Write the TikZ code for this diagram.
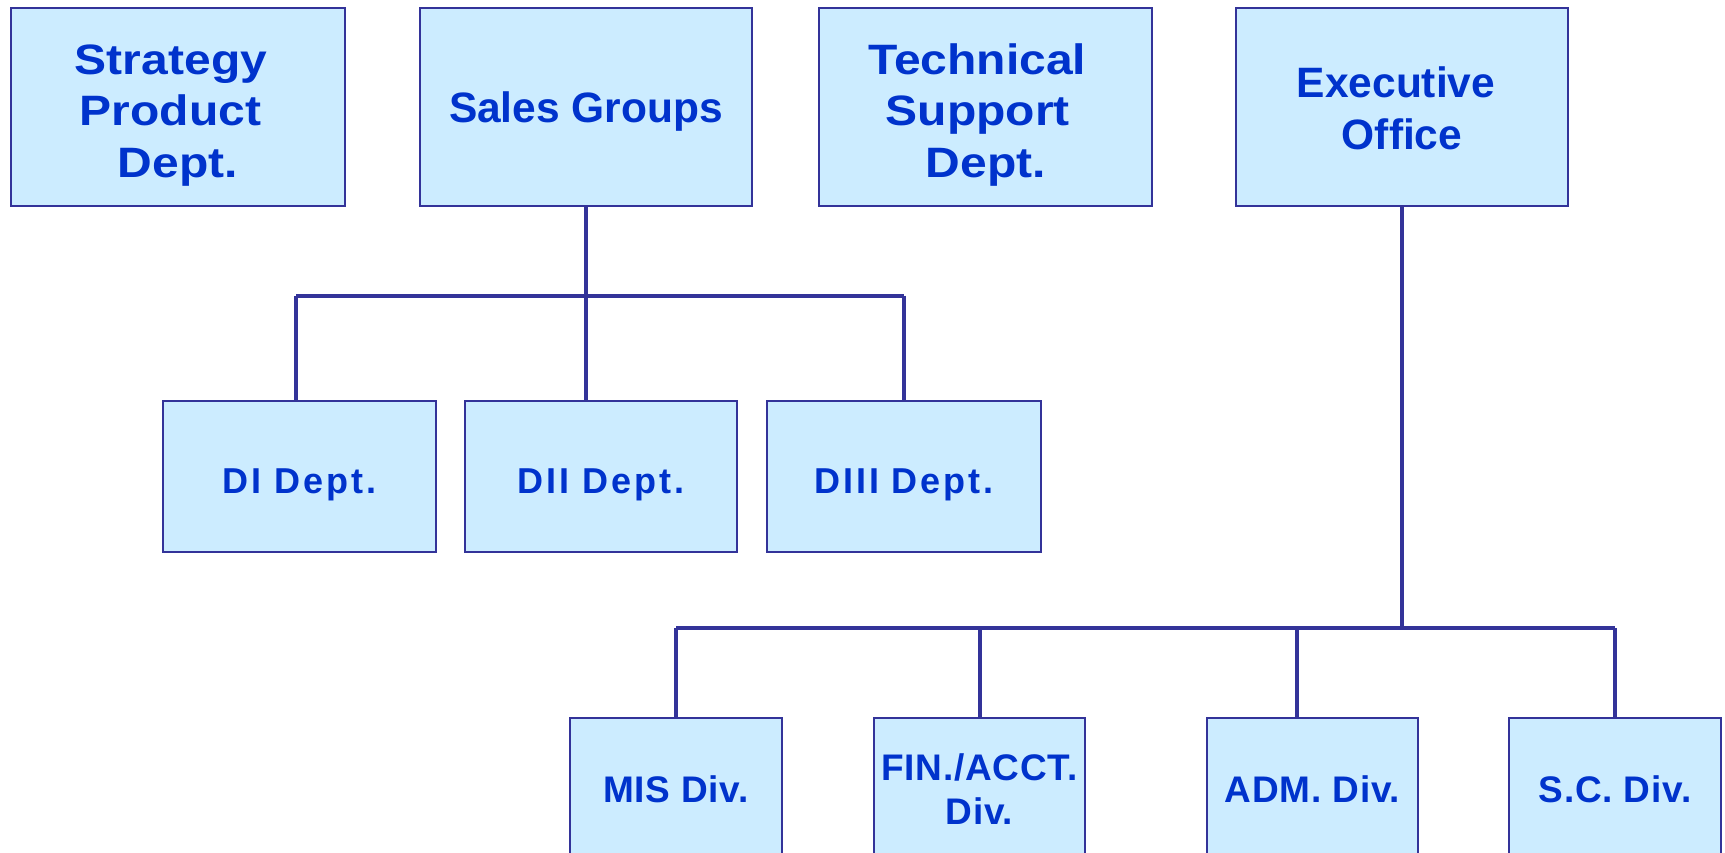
\documentclass[tikz,border=0pt]{standalone}
\usepackage{fontspec}
\setmainfont{Liberation Sans}
\definecolor{boxfill}{HTML}{CCECFF}
\definecolor{boxline}{HTML}{333399}
\definecolor{boxtext}{HTML}{0033CC}
\newcommand{\topstrut}{\rule{0pt}{38pt}}
\newcommand{\midstrut}{\rule{0pt}{33pt}}
\tikzset{
  orgbox/.style={draw=boxline, line width=2pt, fill=boxfill, text=boxtext,
    inner sep=0pt, align=center, text depth=0pt},
  topfont/.style={font=\fontsize{42.5}{51.5}\selectfont\bfseries},
  widefont/.style={font=\fontsize{42.5}{51.5}\selectfont\bfseries\addfontfeature{FakeStretch=1.13}},
  midfont/.style={font=\fontsize{36}{43}\selectfont\bfseries\addfontfeature{LetterSpace=8}},
  botfont/.style={font=\fontsize{37}{44}\selectfont\bfseries\addfontfeature{LetterSpace=2}},
  link/.style={draw=boxline, line width=4pt}
}
\begin{document}
\begin{tikzpicture}[x=1pt,y=-1pt]
\clip (0,0) rectangle (1725,852);
% top row
\node[orgbox,widefont,minimum width=334pt,minimum height=197.5pt] (strat) at (178,106.8)
  {\topstrut Strategy\kern14pt\\Product\kern15pt\\Dept.};
\node[orgbox,topfont,minimum width=332pt,minimum height=197.5pt] (sales) at (586,106.8)
  {Sales Groups};
\node[orgbox,widefont,minimum width=333pt,minimum height=197.5pt] (tech) at (985.7,106.8)
  {\topstrut Technical\kern17pt\\Support\kern16pt\\Dept.};
\node[orgbox,topfont,minimum width=332pt,minimum height=197.5pt] (exec) at (1402,106.8)
  {\rule{0pt}{33pt}Executive\kern12pt\\Office};
% middle row
\node[orgbox,midfont,minimum width=273pt,minimum height=151pt] (d1) at (299.5,476.5) {\midstrut DI Dept.};
\node[orgbox,midfont,minimum width=272.5pt,minimum height=151pt] (d2) at (601,476.5) {\midstrut DII Dept.};
\node[orgbox,midfont,minimum width=274pt,minimum height=151pt] (d3) at (904,476.5) {\midstrut DIII Dept.};
% bottom row
\node[orgbox,botfont,minimum width=212pt,minimum height=142pt] (mis) at (676,789) {MIS Div.};
\node[orgbox,botfont,minimum width=211pt,minimum height=142pt] (fin) at (979.5,789) {FIN./ACCT.\\Div.};
\node[orgbox,botfont,minimum width=211pt,minimum height=142pt] (adm) at (1312.5,789) {ADM. Div.};
\node[orgbox,botfont,minimum width=211.5pt,minimum height=142pt] (sc) at (1615,789) {S.C. Div.};
% sales connectors
\coordinate (sb) at (sales.south |- 0,295.7);
\coordinate (s1) at (296,295.7);
\coordinate (s3) at (d3.north |- sb);
\draw[link] (sales.south) -- (sales.south |- d2.north);
\draw[link] (s1) -- (s3);
\draw[link] (s1) -- (s1 |- d1.north);
\draw[link] (s3) -- (d3.north);
% executive connectors
\coordinate (eb) at (exec.south |- 0,628.3);
\coordinate (e1) at (mis.north |- eb);
\coordinate (e2) at (fin.north |- eb);
\coordinate (e3) at (1297,628.3);
\coordinate (e4) at (sc.north |- eb);
\draw[link] (exec.south) -- (eb);
\draw[link] (e1) -- (e4);
\draw[link] (e1) -- (mis.north);
\draw[link] (e2) -- (fin.north);
\draw[link] (e3) -- (e3 |- adm.north);
\draw[link] (e4) -- (sc.north);
\end{tikzpicture}
\end{document}
